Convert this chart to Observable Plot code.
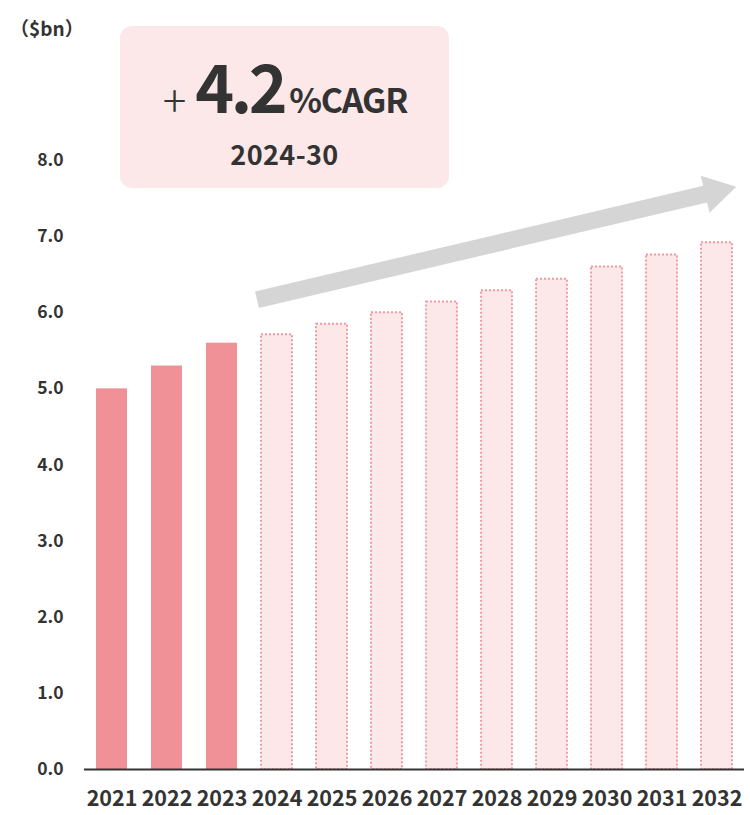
<!DOCTYPE html>
<html>
<head>
<meta charset="utf-8">
<script src="https://cdn.jsdelivr.net/npm/d3@7"></script>
<script src="https://cdn.jsdelivr.net/npm/@observablehq/plot@0.6"></script>
<style>
  body { margin: 0; background: #fff; }
  #chart { position: relative; width: 750px; height: 815px; }
  #chart svg { display: block; }
  g[aria-label$="tick label"] text { font-weight: 700; }
</style>
</head>
<body>
<div id="chart"></div>
<script>
// ---- data ----
const years = ["2021","2022","2023","2024","2025","2026","2027","2028","2029","2030","2031","2032"];
const values = [5.0, 5.3, 5.6, 5.71, 5.85, 6.0, 6.14, 6.29, 6.44, 6.6, 6.76, 6.92];
const forecastYears = ["2024","2025","2026","2027","2028","2029","2030","2031","2032"];
const yTicks = [0, 1, 2, 3, 4, 5, 6, 7, 8];
const unitLabel = "（$bn）";
const cagrSign = "+";
const cagrValue = "4.2";
const cagrSuffix = "%CAGR";
const cagrPeriod = "2024-30";
// trend arrow, in (year, value) units
const arrowFrom = [2023.645, 6.163];
const arrowTo = [2032.36, 7.648];

const rows = years.map((y, i) => ({ year: y, value: values[i], forecast: forecastYears.includes(y) }));

const FONT = '"Noto Sans CJK JP", "Noto Sans", sans-serif';
const TEXT = "#333333";

const plot = Plot.plot({
  width: 750,
  height: 815,
  marginTop: 160,
  marginBottom: 46,
  marginLeft: 84,
  marginRight: 6,
  style: { fontFamily: FONT, background: "transparent", color: TEXT, overflow: "visible" },
  x: { domain: years, paddingInner: 0.436, paddingOuter: 0.218, label: null },
  y: { domain: [0, 8], label: null },
  marks: [
    Plot.barY(rows.filter(d => !d.forecast), { x: "year", y: "value", fill: "#f09097" }),
    Plot.barY(rows.filter(d => d.forecast), {
      x: "year", y: "value", fill: "#fce8e9",
      stroke: "#f39aa1", strokeWidth: 2, strokeDasharray: "2,2"
    }),
    Plot.axisY({ ticks: yTicks, tickFormat: d => d.toFixed(1), tickSize: 0, tickPadding: 21, fontSize: 17.5, label: null, fill: TEXT }),
    Plot.axisX({ tickSize: 0, tickPadding: 21, fontSize: 21.5, label: null, fill: TEXT }),
    Plot.ruleY([0], { stroke: "#333", strokeWidth: 2 })
  ]
});

document.getElementById("chart").appendChild(plot);

const svg = d3.select(plot);
const xs = plot.scale("x");
const ys = plot.scale("y");
const px = yr => xs.apply("2024") + xs.bandwidth / 2 + (yr - 2024) * xs.step;
const py = v => ys.apply(v);

// arrow
{
  const x0 = px(arrowFrom[0]), y0 = py(arrowFrom[1]);
  const x1 = px(arrowTo[0]), y1 = py(arrowTo[1]);
  const L = Math.hypot(x1 - x0, y1 - y0);
  const ux = (x1 - x0) / L, uy = (y1 - y0) / L;
  const nx = -uy, ny = ux;
  const shaft = 8.5, head = 19, headLen = 32;
  const bx = x1 - ux * headLen, by = y1 - uy * headLen;
  const pts = [
    [x0 + nx * shaft, y0 + ny * shaft],
    [bx + nx * shaft, by + ny * shaft],
    [bx + nx * head, by + ny * head],
    [x1, y1],
    [bx - nx * head, by - ny * head],
    [bx - nx * shaft, by - ny * shaft],
    [x0 - nx * shaft, y0 - ny * shaft]
  ];
  svg.append("polygon").attr("points", pts.map(p => p.join(",")).join(" ")).attr("fill", "#d5d5d5");
}

// unit label
svg.append("text").attr("x", 10).attr("y", 36).attr("text-anchor", "start")
  .attr("font-family", FONT).attr("font-size", 19).attr("font-weight", 700).attr("fill", TEXT)
  .text(unitLabel);

// CAGR box
svg.append("rect").attr("x", 120).attr("y", 26).attr("width", 329).attr("height", 162)
  .attr("rx", 12).attr("fill", "#fce8e9");
const t1 = svg.append("text").attr("x", 285).attr("y", 113).attr("text-anchor", "middle")
  .attr("font-family", FONT).attr("fill", TEXT);
t1.append("tspan").attr("font-size", 44).attr("font-weight", 300).attr("dy", 4).text(cagrSign);
t1.append("tspan").attr("font-size", 66).attr("font-weight", 700).attr("dx", 9).attr("dy", -4)
  .attr("letter-spacing", -3.5).text(cagrValue);
t1.append("tspan").attr("font-size", 34).attr("font-weight", 700).attr("dx", 5)
  .attr("letter-spacing", -1.2).text(cagrSuffix);
svg.append("text").attr("x", 284.5).attr("y", 165).attr("text-anchor", "middle")
  .attr("font-family", FONT).attr("font-size", 27).attr("font-weight", 700).attr("fill", TEXT)
  .attr("letter-spacing", 0.4).text(cagrPeriod);
</script>
</body>
</html>
